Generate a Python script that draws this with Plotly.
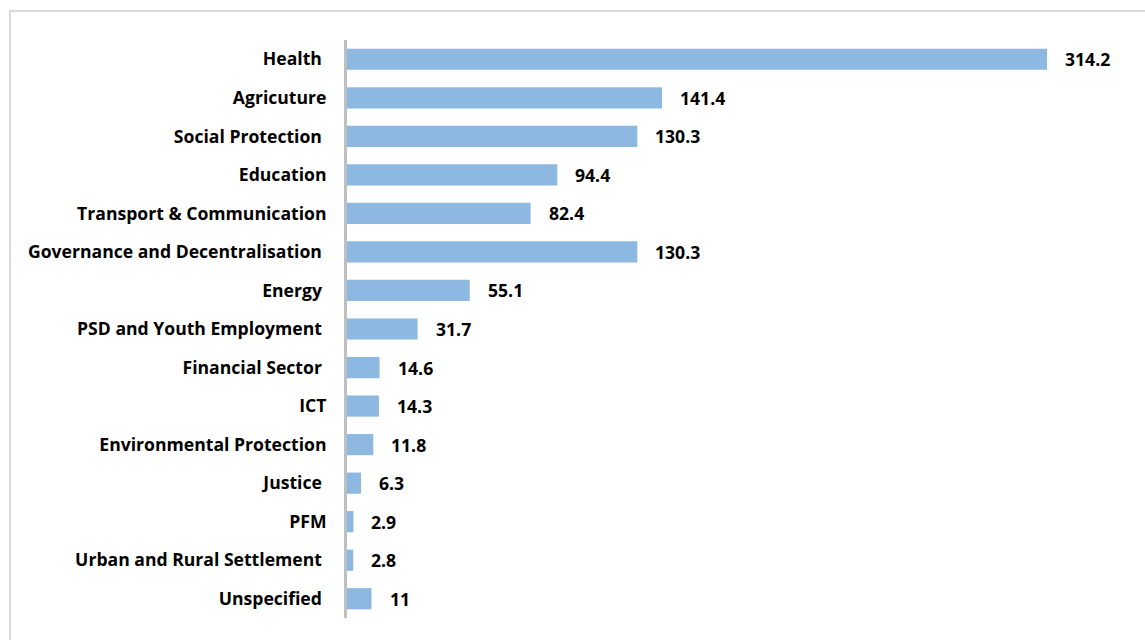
import plotly.graph_objects as go

# Spending by sector (top to bottom as displayed)
sectors = [
    "Health ", "Agricuture", "Social Protection ", "Education",
    "Transport & Communication", "Governance and Decentralisation ",
    "Energy ", "PSD and Youth Employment ", "Financial Sector ", "ICT",
    "Environmental Protection", "Justice ", "PFM",
    "Urban and Rural Settlement ", "Unspecified ",
]
amounts = [314.2, 141.4, 130.3, 94.4, 82.4, 130.3, 55.1, 31.7,
           14.6, 14.3, 11.8, 6.3, 2.9, 2.8, 11]

BAR_COLOR = "#8DB8E1"
FONT = dict(family="Open Sans", size=17.6, color="#000000", weight="bold")

W, H = 1145, 640
L, R, T, B = 347, 25, 40, 22

fig = go.Figure(
    go.Bar(
        y=sectors,
        x=amounts,
        orientation="h",
        marker=dict(color=BAR_COLOR, line=dict(width=0)),
        hoverinfo="skip",
    )
)

# value labels just past the end of each bar
for s, v in zip(sectors, amounts):
    fig.add_annotation(
        x=v, y=s, xref="x", yref="y",
        text=f"{v:g}", showarrow=False,
        xanchor="left", xshift=16, font=FONT,
    )

# light frame around the chart
pw, ph = W - L - R, H - T - B
fig.add_shape(
    type="rect", xref="paper", yref="paper",
    x0=(10 - L) / pw, x1=(W + 20 - L) / pw,
    y0=-(H + 20 - (H - B)) / ph, y1=1 + (T - 11) / ph,
    line=dict(color="#D9D9D9", width=2), fillcolor="rgba(0,0,0,0)",
    layer="below",
)

fig.update_layout(
    width=W, height=H,
    margin=dict(l=L, r=R, t=T, b=B, autoexpand=False),
    paper_bgcolor="white", plot_bgcolor="white",
    bargap=0.45,
    showlegend=False,
    xaxis=dict(range=[0, pw / 2.228], visible=False, fixedrange=True),
    yaxis=dict(
        autorange="reversed", categoryorder="array", categoryarray=sectors,
        showline=True, linecolor="#BFBFBF", linewidth=3,
        showgrid=False, zeroline=False,
        ticks="outside", ticklen=14, tickcolor="rgba(0,0,0,0)",
        tickfont=FONT, fixedrange=True,
    ),
)

fig.write_html("out.html")
